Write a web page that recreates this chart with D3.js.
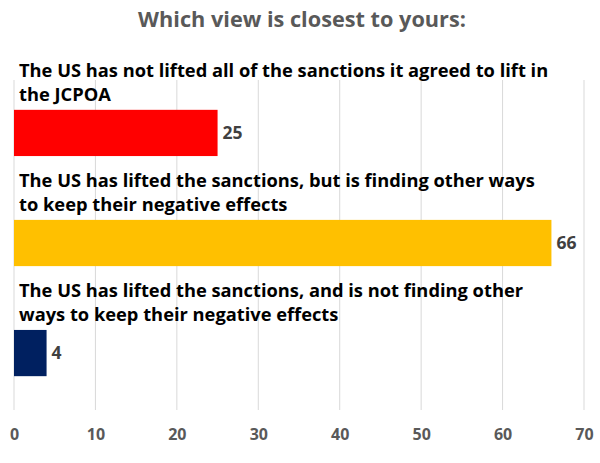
<!DOCTYPE html>
<html><head><meta charset="utf-8">
<script src="https://cdn.jsdelivr.net/npm/d3@7"></script>
<style>body{margin:0;background:#fff}svg{display:block}</style>
</head><body>
<script>
const title = "Which view is closest to yours:";
const categories = [
  ["The US has not lifted all of the sanctions it agreed to lift in", "the JCPOA"],
  ["The US has lifted the sanctions, but is finding other ways", "to keep their negative effects"],
  ["The US has lifted the sanctions, and is not finding other", "ways to keep their negative effects"]
];
const values = [25, 66, 4];
const colors = ["#FF0000", "#FFC000", "#002060"];
const ticks = [0, 10, 20, 30, 40, 50, 60, 70];

const W = 600, H = 463;
const FONT = "'Open Sans', Lato, sans-serif";
const svg = d3.select("body").append("svg").attr("width", W).attr("height", H)
  .style("font-family", FONT);

const x = d3.scaleLinear().domain([0, 70]).range([14, 584]);
const ids = d3.range(categories.length);
const y = d3.scaleBand().domain(ids).range([46, 440]).paddingInner(0.58).paddingOuter(0.58);

// gridlines
svg.append("g").selectAll("line").data(ticks).join("line")
  .attr("x1", d => x(d)).attr("x2", d => x(d))
  .attr("y1", 80).attr("y2", 410)
  .attr("stroke", "#d9d9d9").attr("stroke-width", 1);

// axis labels
const axis = d3.axisBottom(x).tickValues(ticks).tickSize(0).tickPadding(0);
const ag = svg.append("g").attr("transform", "translate(0,429)").call(axis);
ag.select(".domain").remove();
ag.selectAll("text").attr("fill", "#595959").style("font-size", "16px").style("font-weight", "bold")
  .style("font-family", FONT);

// title
svg.append("text").attr("x", 302).attr("y", 27).attr("text-anchor", "middle")
  .attr("fill", "#595959").style("font-size", "21.7px").style("font-weight", "bold").text(title);

// bars
svg.append("g").selectAll("rect").data(ids).join("rect")
  .attr("x", x(0)).attr("y", i => y(i))
  .attr("width", i => x(values[i]) - x(0)).attr("height", y.bandwidth())
  .attr("fill", i => colors[i]);

// value labels
svg.append("g").selectAll("text").data(ids).join("text")
  .attr("x", i => x(values[i]) + 5).attr("y", i => y(i) + y.bandwidth() / 2)
  .attr("dy", "0.36em").attr("fill", "#404040")
  .style("font-size", "17.5px").style("font-weight", "bold")
  .text(i => values[i]);

// category labels
const cl = svg.append("g").selectAll("text").data(ids).join("text")
  .attr("x", 19).attr("y", i => y(i) - 9 - 24)
  .attr("fill", "#000").style("font-size", "18.3px").style("font-weight", "bold");
cl.selectAll("tspan").data(i => categories[i]).join("tspan")
  .attr("x", 19).attr("dy", (d, j) => j === 0 ? 0 : 24).text(d => d);
</script>
</body></html>
